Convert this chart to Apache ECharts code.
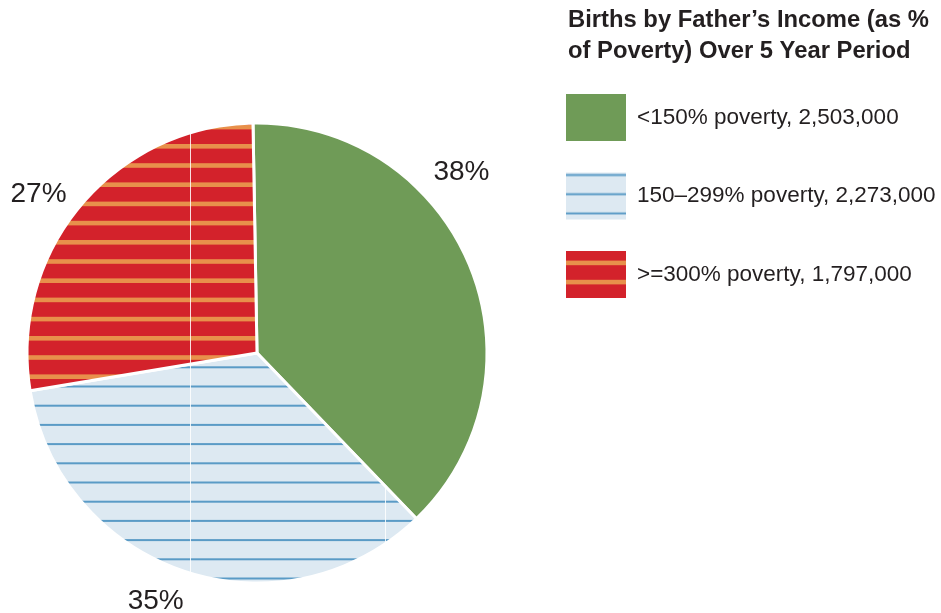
<!DOCTYPE html>
<html>
<head>
<meta charset="utf-8">
<style>
  html, body { margin: 0; padding: 0; background: #fff; }
  #chart { width: 941px; height: 613px; }
</style>
<script src="https://cdn.jsdelivr.net/npm/echarts@6/dist/echarts.min.js"></script>
</head>
<body>
<div id="chart"></div>
<script>
var categories = ['<150% poverty', '150\u2013299% poverty', '>=300% poverty'];
var births = [2503000, 2273000, 1797000];

// where the percent labels sit (degrees, measured from the pie centre), same order as data
var labelAngles = [41.5, -112.2, 144];
var labelDist = [273, 268, 270];

var cx = 257, cy = 353;

// striped fills, drawn once on small canvases and repeated
function makeTile(bg, stripe, offset, thick) {
    var c = document.createElement('canvas');
    c.width = 195;
    c.height = 96;
    var ctx = c.getContext('2d');
    ctx.fillStyle = bg;
    ctx.fillRect(0, 0, c.width, c.height);
    ctx.fillStyle = stripe;
    for (var k = -1; k < 6; k++) {
        var y = offset + k * 19.2;
        ctx.fillRect(0, y - thick / 2, c.width, thick);
    }
    // thin white register line
    ctx.fillStyle = 'rgba(255,255,255,0.85)';
    ctx.fillRect(190, 0, 1, c.height);
    return c;
}

var greenFill = '#6f9b57';
var blueFill = { image: makeTile('#dde9f2', '#5a9bc6', 2.5, 2), repeat: 'repeat' };
var redFill = { image: makeTile('#d3222b', '#e8904b', 11.9, 4.6), repeat: 'repeat' };
var fills = [greenFill, blueFill, redFill];

function fmt(n) {
    return n.toString().replace(/\B(?=(\d{3})+(?!\d))/g, ',');
}

var pieData = categories.map(function (name, i) {
    return { name: name, value: births[i], itemStyle: { color: fills[i] } };
});

var myChart = echarts.init(document.getElementById('chart'), null, { renderer: 'canvas' });

var option = {
    animation: false,
    title: {
        text: 'Births by Father\u2019s Income (as %\nof Poverty) Over 5 Year Period',
        left: 568,
        top: 5,
        padding: 0,
        textStyle: {
            fontFamily: 'Liberation Sans, Arial, sans-serif',
            fontSize: 23.8,
            fontWeight: 'bold',
            lineHeight: 31,
            color: '#231f20'
        }
    },
    legend: {
        orient: 'vertical',
        left: 566,
        top: 94,
        padding: 0,
        icon: 'rect',
        itemWidth: 60,
        itemHeight: 47,
        itemGap: 31.5,
        itemStyle: { borderWidth: 0 },
        data: categories,
        formatter: function (name) {
            return name + ', ' + fmt(births[categories.indexOf(name)]);
        },
        textStyle: {
            fontFamily: 'Liberation Sans, Arial, sans-serif',
            fontSize: 22.5,
            color: '#231f20',
            padding: [0, 0, 0, 6]
        }
    },
    series: [{
        type: 'pie',
        center: [cx, cy],
        radius: 230,
        startAngle: 91,
        clockwise: true,
        avoidLabelOverlap: false,
        itemStyle: { borderColor: '#fff', borderWidth: 3 },
        label: {
            position: 'outside',
            formatter: function (p) { return Math.round(p.percent) + '%'; },
            fontFamily: 'Liberation Sans, Arial, sans-serif',
            fontSize: 28,
            color: '#231f20'
        },
        labelLine: { show: false },
        labelLayout: function (p) {
            var i = p.dataIndex;
            var a = labelAngles[i] * Math.PI / 180;
            return {
                x: cx + labelDist[i] * Math.cos(a),
                y: cy - labelDist[i] * Math.sin(a),
                align: 'center',
                verticalAlign: 'middle'
            };
        },
        emphasis: { disabled: true },
        data: pieData
    }]
};

myChart.setOption(option);
</script>
</body>
</html>
